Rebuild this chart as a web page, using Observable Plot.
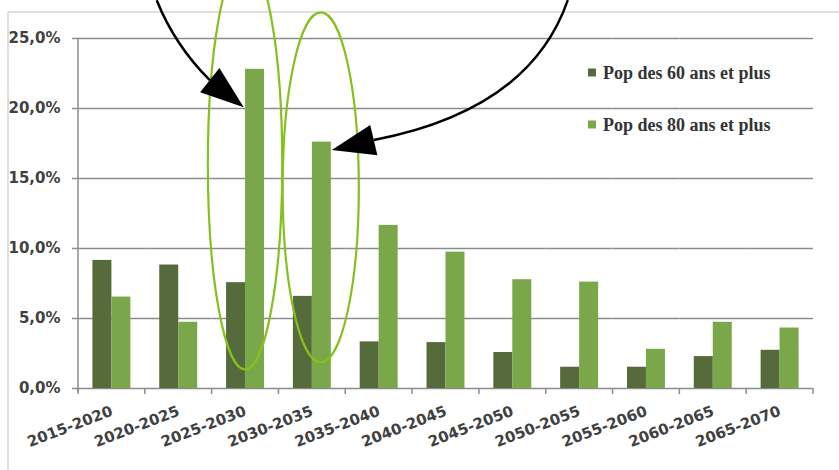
<!DOCTYPE html>
<html>
<head>
<meta charset="utf-8">
<script src="https://cdn.jsdelivr.net/npm/d3@7"></script>
<script src="https://cdn.jsdelivr.net/npm/@observablehq/plot@0.6"></script>
<style>
  html, body { margin: 0; padding: 0; background: #fff; }
  #chart svg { display: block; }
</style>
</head>
<body>
<div id="chart"></div>
<script>
// ---- data ----
const categories = ["2015-2020","2020-2025","2025-2030","2030-2035","2035-2040","2040-2045","2045-2050","2050-2055","2055-2060","2060-2065","2065-2070"];
const pop60 = [9.15, 8.82, 7.56, 6.58, 3.33, 3.28, 2.57, 1.52, 1.52, 2.28, 2.73];
const pop80 = [6.53, 4.73, 22.8, 17.6, 11.65, 9.74, 7.77, 7.6, 2.8, 4.73, 4.32];
const seriesNames = ["Pop des 60 ans et plus", "Pop des 80 ans et plus"];
const seriesColors = ["#566b3c", "#7aa74a"];
const yTicks = [0, 5, 10, 15, 20, 25];

// annotations (category + fraction of band, value in %)
const ellipseCats = ["2025-2030", "2030-2035"];
const ellipseOff = [0.5, 0.633];
const ellipseCy = [16.0, 14.33];
const ellipseRy = [14.67, 12.5];
const ellipseRx = [0.557, 0.57];   // fraction of band width

const arrowStart = [{cat:"2020-2025", off:0.178, v:27.7}, {cat:"2050-2055", off:0.33, v:27.7}];
const arrowCtrl  = [{cat:"2020-2025", off:0.447, v:24.49}, {cat:"2045-2050", off:0.762, v:19.85}];
const arrowBase  = [{cat:"2020-2025", off:0.972, v:21.99}, {cat:"2035-2040", off:0.427, v:17.71}];
const arrowTip   = [{cat:"2025-2030", off:0.48, v:20.06}, {cat:"2030-2035", off:0.798, v:17.0}];

const data = categories.flatMap((c, i) => [
  {period: c, series: seriesNames[0], value: pop60[i]},
  {period: c, series: seriesNames[1], value: pop80[i]}
]);

const fmt = d => d.toFixed(1).replace(".", ",") + "%";

const chart = Plot.plot({
  width: 839,
  height: 470,
  marginLeft: 78,
  marginRight: 26,
  marginTop: 38,
  marginBottom: 82,
  style: {fontFamily: "'DejaVu Sans', sans-serif", background: "#fff"},
  fx: {domain: categories, padding: 0, round: false, label: null},
  x: {domain: seriesNames, paddingInner: 0, paddingOuter: 0.76, round: false, axis: null},
  y: {domain: [0, 25], label: null},
  color: {domain: seriesNames, range: seriesColors},
  marks: [
    Plot.gridY(yTicks, {stroke: "#8c8c8c", strokeOpacity: 1, strokeWidth: 1.5}),
    Plot.axisY(yTicks, {tickFormat: fmt, tickSize: 6, tickPadding: 12, fontSize: 15, fontWeight: "bold", stroke: "#8c8c8c", strokeWidth: 1.5, fill: "#404040", label: null}),
    Plot.axisFx({anchor: "bottom", tickRotate: -21, tickSize: 0, tickPadding: 22, fontSize: 15, fontWeight: "bold", fill: "#404040", label: null}),
    Plot.barY(data, {fx: "period", x: "series", y: "value", fill: "series"})
  ]
});

document.getElementById("chart").appendChild(chart);

// ---- decorations using the chart's scales ----
const svg = d3.select(chart);
const fx = chart.scale("fx");
const ys = chart.scale("y");
const bw = fx.bandwidth;
const X = (cat, off) => fx.apply(cat) + off * bw;
const Y = v => ys.apply(v);
const x0 = fx.apply(categories[0]);
const x1 = fx.apply(categories[categories.length - 1]) + bw;

// outer frame lines
svg.append("line").attr("x1", 8).attr("x2", 839).attr("y1", 12).attr("y2", 12)
  .attr("stroke", "#d6d6d6").attr("stroke-width", 1.5);
svg.append("line").attr("x1", 8).attr("x2", 8).attr("y1", 12).attr("y2", 470)
  .attr("stroke", "#d6d6d6").attr("stroke-width", 1.5);

// vertical axis line
svg.append("line").attr("x1", x0).attr("x2", x0).attr("y1", Y(25)).attr("y2", Y(0) + 4)
  .attr("stroke", "#8c8c8c").attr("stroke-width", 1.5);

// category boundary ticks
const bounds = categories.map(c => fx.apply(c)).concat([x1]);
svg.append("g").selectAll("line").data(bounds).join("line")
  .attr("x1", d => d).attr("x2", d => d).attr("y1", Y(0)).attr("y2", Y(0) + 6)
  .attr("stroke", "#8c8c8c").attr("stroke-width", 1.5);

// legend
const lg = svg.append("g").attr("text-anchor", "start");
seriesNames.forEach((name, i) => {
  const cy = [73, 125][i];
  lg.append("rect").attr("x", 588).attr("y", cy - 4.5).attr("width", 8).attr("height", 8).attr("fill", seriesColors[i]);
  lg.append("text").attr("x", 603).attr("y", cy).attr("dy", "0.35em").attr("text-anchor", "start")
    .attr("font-family", "'Liberation Serif', serif").attr("font-weight", "bold")
    .attr("font-size", 18).attr("fill", "#333").text(name);
});

// ellipses
const ann = svg.append("g");
ellipseCats.forEach((c, i) => {
  const top = Y(ellipseCy[i] + ellipseRy[i]), bot = Y(ellipseCy[i] - ellipseRy[i]);
  ann.append("ellipse")
    .attr("cx", X(c, ellipseOff[i])).attr("cy", Y(ellipseCy[i]))
    .attr("rx", ellipseRx[i] * bw).attr("ry", (bot - top) / 2)
    .attr("fill", "none").attr("stroke", "#86c01e").attr("stroke-width", 2.2);
});

// arrows
arrowStart.forEach((s, i) => {
  const p0 = [X(s.cat, s.off), Y(s.v)];
  const c = [X(arrowCtrl[i].cat, arrowCtrl[i].off), Y(arrowCtrl[i].v)];
  const b = [X(arrowBase[i].cat, arrowBase[i].off), Y(arrowBase[i].v)];
  const t = [X(arrowTip[i].cat, arrowTip[i].off), Y(arrowTip[i].v)];
  ann.append("path").attr("d", `M${p0}Q${c} ${b}`).attr("fill", "none")
    .attr("stroke", "#000").attr("stroke-width", 2.5);
  const dx = t[0] - b[0], dy = t[1] - b[1], L = Math.hypot(dx, dy);
  const nx = -dy / L * 15.5, ny = dx / L * 15.5;
  ann.append("path").attr("d", `M${t}L${b[0] + nx},${b[1] + ny}L${b[0] - nx},${b[1] - ny}Z`)
    .attr("fill", "#000");
});
</script>
</body>
</html>
